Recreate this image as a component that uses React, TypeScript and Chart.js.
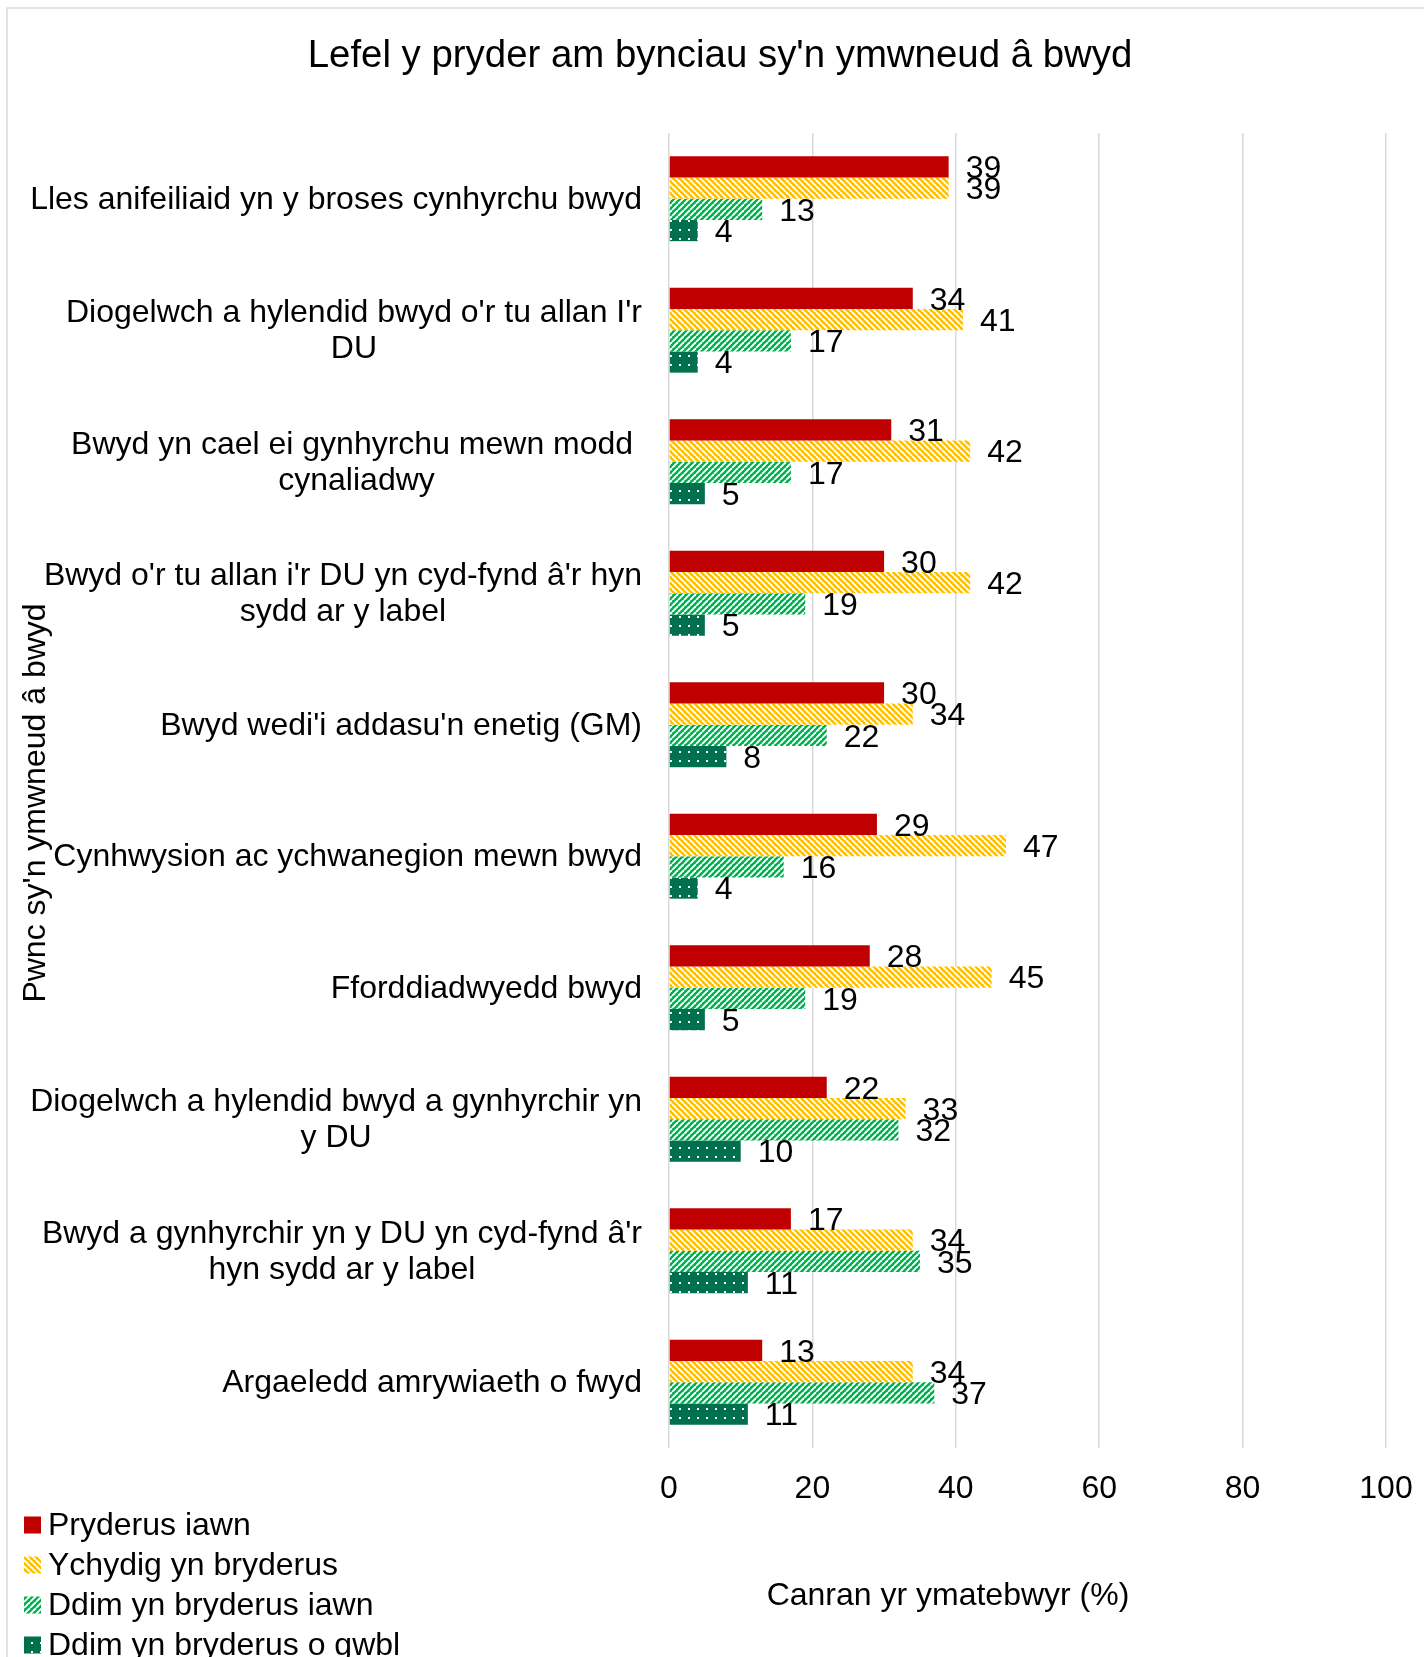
import React, { useEffect, useRef } from "react";
import { Chart, registerables } from "chart.js";

Chart.register(...registerables);

const TITLE = "Lefel y pryder am bynciau sy'n ymwneud â bwyd";
const X_TITLE = "Canran yr ymatebwyr (%)";
const Y_TITLE = "Pwnc sy'n ymwneud â bwyd";

const categories: string[][] = [
  ["Lles anifeiliaid yn y broses cynhyrchu bwyd"],
  ["Diogelwch a hylendid bwyd o'r tu allan I'r", "DU"],
  ["Bwyd yn cael ei gynhyrchu mewn modd ", "cynaliadwy"],
  ["Bwyd o'r tu allan i'r DU yn cyd-fynd â'r hyn", "sydd ar y label"],
  ["Bwyd wedi'i addasu'n enetig (GM)"],
  ["Cynhwysion ac ychwanegion mewn bwyd"],
  ["Fforddiadwyedd bwyd"],
  ["Diogelwch a hylendid bwyd a gynhyrchir yn", "y DU"],
  ["Bwyd a gynhyrchir yn y DU yn cyd-fynd â'r", "hyn sydd ar y label"],
  ["Argaeledd amrywiaeth o fwyd"],
];

const seriesNames = [
  "Pryderus iawn",
  "Ychydig yn bryderus",
  "Ddim yn bryderus iawn",
  "Ddim yn bryderus o gwbl",
];

const veryConcerned = [39, 34, 31, 30, 30, 29, 28, 22, 17, 13];
const slightlyConcerned = [39, 41, 42, 42, 34, 47, 45, 33, 34, 34];
const notVeryConcerned = [13, 17, 17, 19, 22, 16, 19, 32, 35, 37];
const notAtAll = [4, 4, 5, 5, 8, 4, 5, 10, 11, 11];

const X_MIN = 0;
const X_MAX = 100;
const X_STEP = 20;

const FONT = "'Liberation Sans', Arial, sans-serif";

function stripePattern(color: string, dir: "down" | "up", size = 6, lw = 1.9) {
  const c = document.createElement("canvas");
  c.width = size;
  c.height = size;
  const g = c.getContext("2d")!;
  g.fillStyle = color;
  g.fillRect(0, 0, size, size);
  g.strokeStyle = "#ffffff";
  g.lineWidth = lw;
  for (const off of [-size, 0, size]) {
    g.beginPath();
    if (dir === "down") {
      g.moveTo(off, 0);
      g.lineTo(off + size, size);
    } else {
      g.moveTo(off, size);
      g.lineTo(off + size, 0);
    }
    g.stroke();
  }
  return g.createPattern(c, "repeat")!;
}

function dotPattern(color: string) {
  const c = document.createElement("canvas");
  c.width = 9;
  c.height = 9;
  const g = c.getContext("2d")!;
  g.fillStyle = color;
  g.fillRect(0, 0, 9, 9);
  g.fillStyle = "#ffffff";
  g.fillRect(4, 4, 2, 2);
  return g.createPattern(c, "repeat")!;
}

export default function App() {
  const ref = useRef<HTMLCanvasElement | null>(null);

  useEffect(() => {
    const canvas = ref.current;
    if (!canvas) return;

    const fills = [
      "#C00000",
      stripePattern("#FFC000", "down"),
      stripePattern("#00B050", "up"),
      dotPattern("#00704F"),
    ];
    const values = [veryConcerned, slightlyConcerned, notVeryConcerned, notAtAll];

    const textPlugin = {
      id: "customText",
      beforeDraw(chart: any) {
        const ctx = chart.ctx;
        ctx.save();
        ctx.strokeStyle = "#d9d9d9";
        ctx.lineWidth = 1.5;
        ctx.beginPath();
        ctx.moveTo(7, 1657);
        ctx.lineTo(7, 8);
        ctx.lineTo(1424, 8);
        ctx.stroke();
        ctx.restore();
      },
      afterDatasetsDraw(chart: any) {
        const ctx = chart.ctx;
        ctx.save();
        ctx.font = `32px ${FONT}`;
        ctx.fillStyle = "#000";
        ctx.textAlign = "left";
        ctx.textBaseline = "middle";
        chart.data.datasets.forEach((ds: any, di: number) => {
          const meta = chart.getDatasetMeta(di);
          meta.data.forEach((el: any, i: number) => {
            ctx.fillText(String(ds.data[i]), el.x + 17, el.y + 2.5);
          });
        });
        ctx.restore();
      },
      afterDraw(chart: any) {
        const ctx = chart.ctx;
        const area = chart.chartArea;
        const yScale = chart.scales.y;
        ctx.save();
        ctx.fillStyle = "#000";

        // Title
        ctx.font = `38.4px ${FONT}`;
        ctx.textAlign = "center";
        ctx.textBaseline = "alphabetic";
        ctx.fillText(TITLE, 720, 67);

        // Category labels
        ctx.font = `32px ${FONT}`;
        ctx.textBaseline = "middle";
        const lineH = 36;
        const right = area.left - 27;
        categories.forEach((lines, i) => {
          const cy = yScale.getPixelForValue(i);
          const widths = lines.map((l) => ctx.measureText(l).width);
          const bw = Math.max(...widths);
          const cx = right - bw / 2;
          const y0 = cy - ((lines.length - 1) * lineH) / 2;
          ctx.textAlign = "center";
          lines.forEach((l, k) => ctx.fillText(l, cx, y0 + k * lineH + 1));
        });

        // X axis title
        ctx.textAlign = "center";
        ctx.fillText(X_TITLE, 948, 1596);

        // Y axis title
        ctx.save();
        ctx.translate(36, 803);
        ctx.rotate(-Math.PI / 2);
        ctx.fillText(Y_TITLE, 0, 0);
        ctx.restore();

        // Legend
        chart.data.datasets.forEach((ds: any, di: number) => {
          const cy = 1525 + di * 40;
          ctx.fillStyle = ds.backgroundColor;
          ctx.fillRect(24, cy - 8.5, 17, 17);
          ctx.fillStyle = "#000";
          ctx.textAlign = "left";
          ctx.fillText(ds.label, 48, cy + 1);
        });
        ctx.restore();
      },
    };

    const chart = new Chart(canvas, {
      type: "bar",
      data: {
        labels: categories.map((c) => c.join(" ")),
        datasets: seriesNames.map((name, i) => ({
          label: name,
          data: values[i],
          backgroundColor: fills[i] as any,
          borderWidth: 0,
          categoryPercentage: 0.645,
          barPercentage: 1,
        })),
      },
      options: {
        indexAxis: "y",
        animation: false,
        responsive: false,
        maintainAspectRatio: false,
        layout: { padding: { top: 133, right: 38, left: 0, bottom: 0 } },
        plugins: {
          legend: { display: false },
          title: { display: false },
          tooltip: { enabled: false },
        },
        scales: {
          x: {
            min: X_MIN,
            max: X_MAX,
            ticks: {
              stepSize: X_STEP,
              color: "#000",
              font: { size: 32, family: FONT },
              padding: 22,
              maxRotation: 0,
            },
            grid: { color: "#d9d9d9", lineWidth: 1.5, drawTicks: false },
            border: { display: false },
            afterFit: (scale: any) => {
              scale.height = 209;
              scale.paddingLeft = 0;
              scale.paddingRight = 0;
            },
          },
          y: {
            ticks: { display: false },
            grid: { display: false },
            border: { display: false },
            afterFit: (scale: any) => {
              scale.width = 669;
              scale.paddingTop = 0;
              scale.paddingBottom = 0;
            },
          },
        },
      },
      plugins: [textPlugin],
    });

    return () => chart.destroy();
  }, []);

  return (
    <div
      style={{
        position: "fixed",
        left: 0,
        top: 0,
        width: 1424,
        height: 1657,
        overflow: "hidden",
        background: "#fff",
      }}
    >
      <canvas
        ref={ref}
        width={1424}
        height={1657}
        style={{ width: 1424, height: 1657, display: "block" }}
      />
    </div>
  );
}
